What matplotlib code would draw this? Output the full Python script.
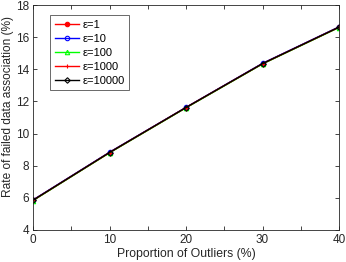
import matplotlib
matplotlib.use('Agg')
import matplotlib.pyplot as plt

plt.rcParams['font.family'] = ['Liberation Sans', 'DejaVu Sans']

# proportion of outliers (%)
outliers = [0, 10, 20, 30, 40]
# rate of failed data association (%) per epsilon
rate_e1 = [5.85, 8.82, 11.62, 14.35, 16.62]
rate_e10 = [5.87, 8.84, 11.63, 14.37, 16.64]
rate_e100 = [5.83, 8.80, 11.60, 14.33, 16.60]
rate_e1000 = [5.85, 8.82, 11.62, 14.35, 16.62]
rate_e10000 = [5.85, 8.82, 11.62, 14.35, 16.62]

labels = ['ε=1', 'ε=10', 'ε=100', 'ε=1000', 'ε=10000']
series = [rate_e1, rate_e10, rate_e100, rate_e1000, rate_e10000]
styles = [('r', 'o', 'r'), ('b', 'o', 'none'), ('#00ff00', '^', 'none'),
          ('r', '+', 'none'), ('k', 'D', 'none')]

fig = plt.figure(figsize=(3.46, 2.62), dpi=100)
ax = fig.add_axes([33 / 346, 32 / 262, 306 / 346, 225 / 262])

for vals, lab, (c, m, fc) in zip(series, labels, styles):
    ax.plot(outliers, vals, color=c, marker=m, markerfacecolor=fc,
            markersize=3.2 if m != 'D' else 2.8, linewidth=1.0,
            markeredgewidth=0.8, label=lab)

ax.set_xlim(0, 40)
ax.set_ylim(4, 18)
ax.set_xticks(range(0, 41, 5))
ax.set_xticklabels(['0', '', '10', '', '20', '', '30', '', '40'])
ax.set_yticks(range(4, 19, 2))
ax.tick_params(direction='in', top=True, right=True, labelsize=8.5,
               colors='#262626', length=3, width=0.6, pad=3)
for s in ax.spines.values():
    s.set_color('#262626')
    s.set_linewidth(0.6)

ax.set_xlabel('Proportion of Outliers (%)', fontsize=8.8, color='#262626', labelpad=1.5)
ax.set_ylabel('Rate of failed data association (%)', fontsize=8.6, color='#262626', labelpad=2)
ax.yaxis.set_label_coords(-0.063, 0.55)

leg = ax.legend(loc='upper left', bbox_to_anchor=(0.056, 0.955), fontsize=8,
                frameon=True, fancybox=False, edgecolor='#262626',
                handlelength=2.2, handletextpad=0.3, borderpad=0.4,
                labelspacing=0.36, borderaxespad=0)
leg.get_frame().set_linewidth(0.6)

fig.savefig('out.png', dpi=100)
